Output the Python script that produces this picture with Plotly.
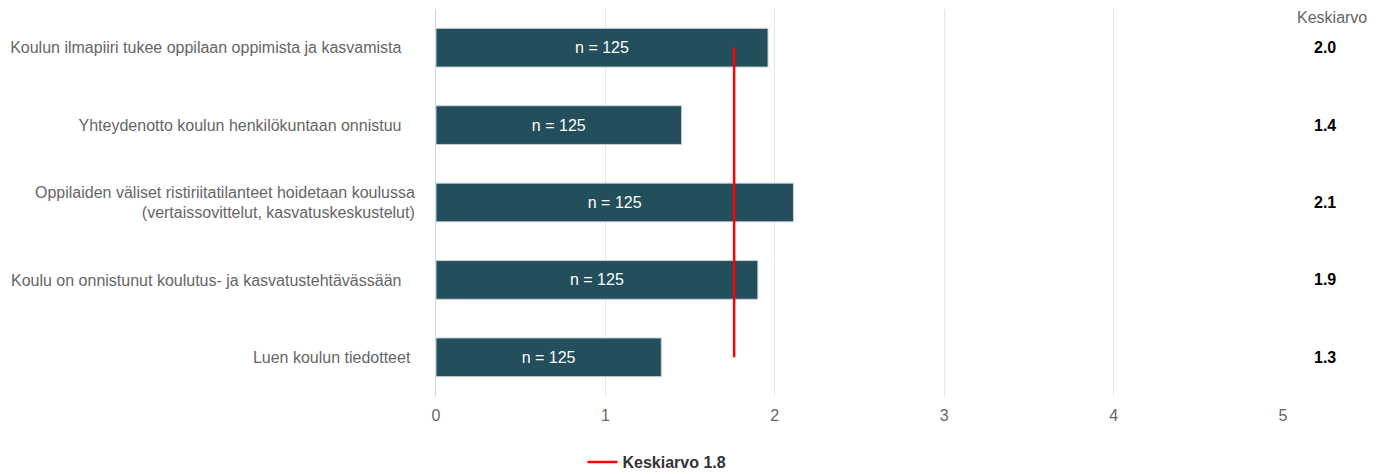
import plotly.graph_objects as go

NB = "\u00a0"
categories = [
    "Koulun ilmapiiri tukee oppilaan oppimista ja kasvamista" + NB * 3,
    "Yhteydenotto koulun henkilökuntaan onnistuu" + NB * 3,
    "Oppilaiden väliset ristiriitatilanteet hoidetaan koulussa<br>(vertaissovittelut, kasvatuskeskustelut)",
    "Koulu on onnistunut koulutus- ja kasvatustehtävässään" + NB * 3,
    "Luen koulun tiedotteet" + NB * 1,
]
means = [1.96, 1.45, 2.11, 1.90, 1.33]
mean_labels = ["2.0", "1.4", "2.1", "1.9", "1.3"]
n_labels = ["n = 125"] * 5
overall_mean = 1.76
overall_label = "Keskiarvo 1.8"
x_ticks = [0, 1, 2, 3, 4, 5]

FONT = "Liberation Sans, Arial, sans-serif"
L, R, T, B = 436, 98, 9, 78
W, H = 1381, 474
PW = W - L - R

fig = go.Figure()
fig.add_trace(go.Bar(
    y=categories, x=means, orientation="h",
    marker=dict(color="#234e5c", line=dict(color="#c8d2d6", width=1)),
    text=n_labels, textposition="inside", insidetextanchor="middle",
    textfont=dict(color="white", size=16, family=FONT),
    width=0.5, showlegend=False,
))
fig.add_trace(go.Scatter(
    x=[overall_mean, overall_mean], y=[categories[0], categories[-1]],
    mode="lines", line=dict(color="#ff0000", width=2.5),
    name=overall_label, showlegend=True,
))

fig.add_annotation(xref="paper", yref="paper", x=(1295 - L) / PW, y=1.0,
                   text="Keskiarvo", showarrow=False, xanchor="left", yanchor="middle",
                   yshift=(T - 17), font=dict(size=16, color="#666666", family=FONT))
for cat, lab in zip(categories, mean_labels):
    fig.add_annotation(xref="paper", yref="y", x=(1325 - L) / PW, y=cat,
                       text="<b>" + lab + "</b>", showarrow=False, xanchor="center",
                       font=dict(size=16, color="#000000", family=FONT))

fig.update_layout(
    width=W, height=H,
    margin=dict(l=L, r=R, t=T, b=B, autoexpand=False),
    plot_bgcolor="white", paper_bgcolor="white",
    font=dict(family=FONT, size=16, color="#666666"),
    legend=dict(orientation="h", x=(657 - L) / PW, xanchor="center",
                yref="container", y=1 - 462 / H, yanchor="middle",
                font=dict(size=16, color="#333333", family=FONT, weight="bold"),
                itemwidth=30),
    xaxis=dict(range=[0, 5], tickvals=x_ticks, showgrid=True, gridcolor="#e6e6e6", gridwidth=1,
               zeroline=False, showline=False, tickfont=dict(size=16, color="#666666"),
               ticks="", ticklabelstandoff=8, fixedrange=True),
    yaxis=dict(autorange="reversed", showgrid=False, showline=True, linecolor="#ccd6eb", linewidth=1,
               ticks="", tickfont=dict(size=16, color="#666666"), ticklabelstandoff=17),
)
fig.write_html("out.html", config={"displayModeBar": False},
               post_script="document.body.style.margin='0';")
